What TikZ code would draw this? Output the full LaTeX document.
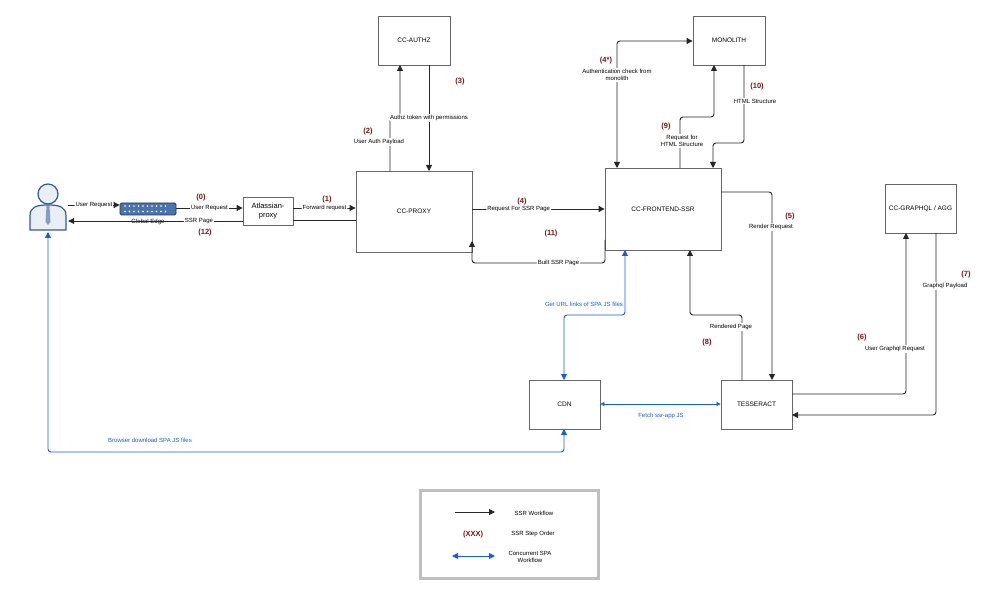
\documentclass[tikz,border=0pt]{standalone}
\usepackage{fontspec}
\setmainfont{Liberation Sans}
\usetikzlibrary{arrows.meta}
\definecolor{stepred}{HTML}{7A1414}
\definecolor{spablue}{HTML}{1A5FD0}
\definecolor{iconblue}{HTML}{2E5C9A}
\begin{document}
\begin{tikzpicture}[x=1pt,y=-1pt,
 box/.style={draw=black!60,line width=0.8pt,fill=white,inner sep=0pt,font=\fontsize{6.5}{7.5}\selectfont},
 flow/.style={draw=black!85,line width=0.9pt,-{Triangle[length=6pt,width=6pt]},rounded corners=3pt},
 spa/.style={draw=spablue,line width=0.9pt,{Triangle[length=6pt,width=6pt]}-{Triangle[length=6pt,width=6pt]},rounded corners=3pt},
 lab/.style={fill=white,inner sep=1pt,font=\fontsize{6}{7}\selectfont,align=center},
 blab/.style={lab,text=spablue},
 stepno/.style={font=\bfseries\fontsize{7.5}{8.5}\selectfont,text=stepred,inner sep=0pt}]
\useasboundingbox (0,0) rectangle (999,604);
% boxes
\node[box,minimum width=50pt,minimum height=28pt,font=\fontsize{7.5}{8.5}\selectfont,align=center] (ap) at (268,211) {Atlassian-\\proxy};
\node[box,minimum width=116pt,minimum height=81pt] (px) at (414,211.5) {CC-PROXY};
\node[box,minimum width=72pt,minimum height=49pt] (az) at (414,40.5) {CC-AUTHZ};
\node[box,minimum width=116pt,minimum height=82pt] (fe) at (663,209) {CC-FRONTEND-SSR};
\node[box,minimum width=72pt,minimum height=49pt] (mo) at (729,40.5) {MONOLITH};
\node[box,minimum width=71pt,minimum height=49pt] (gq) at (920.5,208.5) {CC-GRAPHQL / AGG};
\node[box,minimum width=71pt,minimum height=49pt] (cdn) at (564.5,404.5) {CDN};
\node[box,minimum width=71pt,minimum height=49pt] (ts) at (756.5,404.5) {TESSERACT};
% person
\node[inner sep=0pt,minimum width=40pt,minimum height=44pt] (user) at (48,208) {};
\fill[white!90!iconblue,draw=iconblue,line width=1.2pt] (30,230) -- (30,216) .. controls (30,207) and (36,205) .. (48,205) .. controls (60,205) and (66,207) .. (66,216) -- (66,230) -- cycle;
\fill[white!90!iconblue,draw=iconblue,line width=1.2pt] (48,194) circle (10);
\fill[iconblue!60] (46.5,206) -- (49.5,206) -- (50.5,222) -- (48,225) -- (45.5,222) -- cycle;
% global edge icon
\node[fill=iconblue!85,draw=iconblue!60!black,line width=0.8pt,rounded corners=1.5pt,minimum width=56pt,minimum height=12pt,inner sep=0pt] (ge) at (148,209) {};
\foreach \i in {0,...,9}{\fill[white] (125+\i*4.5,206) circle (0.9); \fill[white] (125+\i*4.5,211.5) circle (0.9);}
\node[font=\fontsize{6}{7}\selectfont,inner sep=0pt] at (148,222) {Global Edge};
% left flows
\draw[flow] (user.east|-0,205) -- node[lab]{User Request} (ge.west|-0,205);
\draw[flow] (ge.east|-0,208) -- node[lab]{User Request} (ap.west|-0,208);
\node[stepno] at (201,198) {(0)};
\draw[flow] (ap.west|-0,221) -- node[lab,pos=0.25]{SSR Page} (user.east|-0,221);
\node[stepno] at (205,233) {(12)};
\draw[flow] (ap.east|-0,208) -- node[lab]{Forward request} (px.west|-0,208);
\draw[draw=black!85,line width=0.9pt] (ap.east|-0,220) -- (px.west|-0,220);
\node[stepno] at (327,200) {(1)};
% authz
\draw[flow] (390,171) -- (390,118) -- (400,118) -- (400,65);
\node[lab] at (379,142) {User Auth Payload};
\node[stepno] at (368,132) {(2)};
\draw[flow] (429,65) -- node[lab,pos=0.5]{Authz token with permissions} (429,171);
\node[stepno] at (460,82) {(3)};
% proxy <-> frontend
\draw[flow] (px.east|-0,209) -- node[lab,pos=0.35]{Request For SSR Page} (fe.west|-0,209);
\node[stepno] at (522,202) {(4)};
\draw[flow] (605,240) -- (605,263) -- node[lab,pos=0.35]{Built SSR Page} (472,263) -- (472,241);
\node[stepno] at (551,234) {(11)};
% monolith
\draw[flow,{Triangle[length=6pt,width=6pt]}-{Triangle[length=6pt,width=6pt]}] (617,168) -- (617,41) -- (mo.west|-0,41);
\node[lab] at (617,75) {Authentication check from\\monolith};
\node[stepno] at (606,61) {(4*)};
\draw[flow] (680,168) -- (680,117) -- (714,117) -- (714,65);
\node[lab] at (682,141) {Request for\\HTML Structure};
\node[stepno] at (666,127) {(9)};
\draw[flow] (744,65) -- (744,143) -- (713,143) -- (713,168);
\node[lab] at (755,101) {HTML Structure};
\node[stepno] at (757,87) {(10)};
% tesseract
\draw[flow] (721,192) -- (772,192) -- (772,380);
\node[lab] at (771,227) {Render Request};
\node[stepno] at (790,217) {(5)};
\draw[flow] (742,380) -- (742,315) -- (690,315) -- (690,250);
\node[lab] at (731,327) {Rendered Page};
\node[stepno] at (707,343) {(8)};
\draw[flow] (792,394) -- (906,394) -- (906,233);
\node[lab] at (895,349) {User Graphql Request};
\node[stepno] at (862,338) {(6)};
\draw[flow] (936,233) -- (936,415) -- (792,415);
\node[lab] at (945,286) {Graphql Payload};
\node[stepno] at (966,275) {(7)};
% blue
\draw[spa] (625,250) -- (625,315) -- (564,315) -- (564,380);
\node[blab] at (584,304) {Get URL links of SPA JS files};
\draw[spa,line width=0.6pt,{Triangle[length=4pt,width=4pt]}-{Triangle[length=4pt,width=4pt]}] (cdn.east|-0,404) -- (ts.west|-0,404);
\node[blab] at (661,416) {Fetch ssr-app JS};
\draw[spa] (564,429) -- (564,452) -- (48,452) -- (48,232);
\node[blab] at (150,440) {Browser download SPA JS files};
% legend
\draw[black!25,line width=3pt] (420,490) rectangle (598,578);
\draw[draw=black!85,line width=0.9pt,-{Triangle[length=6pt,width=6pt]}] (455,512) -- (495,512);
\node[lab] at (534,513) {SSR Workflow};
\node[stepno] at (473,535) {(XXX)};
\node[lab] at (533,534) {SSR Step Order};
\draw[spa] (452,556) -- (495,556);
\node[lab] at (530,557) {Concurrent SPA\\Workflow};
\end{tikzpicture}
\end{document}
